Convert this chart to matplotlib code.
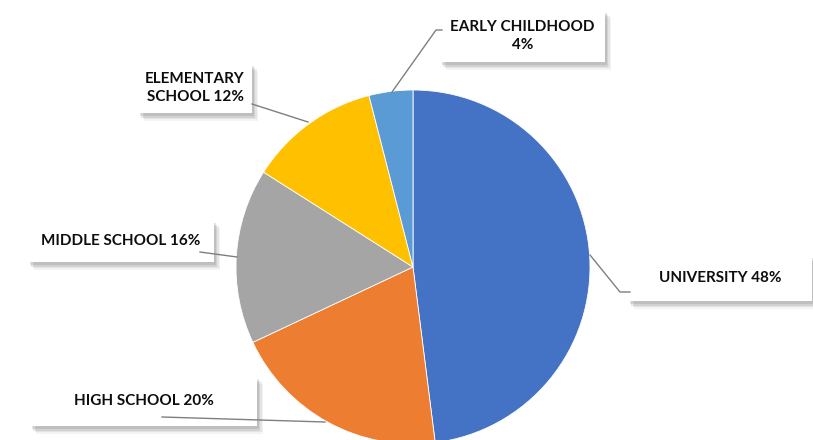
import matplotlib.pyplot as plt
import matplotlib.patheffects as pe
from matplotlib.patches import Rectangle

labels = ["UNIVERSITY", "HIGH SCHOOL", "MIDDLE SCHOOL", "ELEMENTARY\nSCHOOL", "EARLY CHILDHOOD\n"]
shares = [48, 20, 16, 12, 4]
colors = ["#4472C4", "#ED7D31", "#A5A5A5", "#FFC000", "#5B9BD5"]

# label box layout in pixels (x0, y0 top, w, h) and leader line points
boxes = [(628, 255, 184, 46), (30, 376, 227, 50), (28, 220, 186, 42), (138, 63, 114, 50), (440, 10, 165, 52)]
leaders = [
    [(590, 255), (620, 292), (630, 292)],
    [(325, 422), (162, 417)],
    [(237, 257), (200, 252)],
    [(308, 122), (252, 104)],
    [(392, 92), (436, 30), (442, 30)],
]

H = 440
plt.rcParams['font.family'] = ['Lato', 'DejaVu Sans']
fig = plt.figure(figsize=(8.13, 4.4), dpi=100)
ax = fig.add_axes([0, 0, 1, 1])

ax.pie(shares, colors=colors, startangle=90, counterclock=False,
       center=(413, H - 267), radius=177, frame=True,
       wedgeprops=dict(linewidth=0.6, edgecolor='white'))
ax.set_xlim(0, 813)
ax.set_ylim(0, H)
ax.set_aspect('equal')
ax.axis('off')

# soft drop shadow, a few stacked layers
shadow = [pe.SimplePatchShadow(offset=(o, -o - 1), shadow_rgbFace='#777777', alpha=a)
          for o, a in [(4.5, 0.08), (3.5, 0.12), (2.5, 0.16), (1.5, 0.2)]]

for lab, s, (x0, y0, w, h), pts in zip(labels, shares, boxes, leaders):
    xs = [p[0] for p in pts]
    ys = [H - p[1] for p in pts]
    ax.plot(xs, ys, color='#7f7f7f', lw=1, zorder=6)
    r = Rectangle((x0, H - y0 - h), w, h, facecolor='white', edgecolor='none', zorder=4)
    r.set_path_effects(shadow + [pe.Normal()])
    ax.add_patch(r)
    txt = lab + (" " if not lab.endswith("\n") else "") + f"{s}%"
    ax.text(x0 + w / 2, H - y0 - h / 2, txt, ha='center', va='center',
            fontsize=11, fontweight='bold', color='#0d0d0d', zorder=5, linespacing=1.3)

fig.savefig('out.png', dpi=100)
